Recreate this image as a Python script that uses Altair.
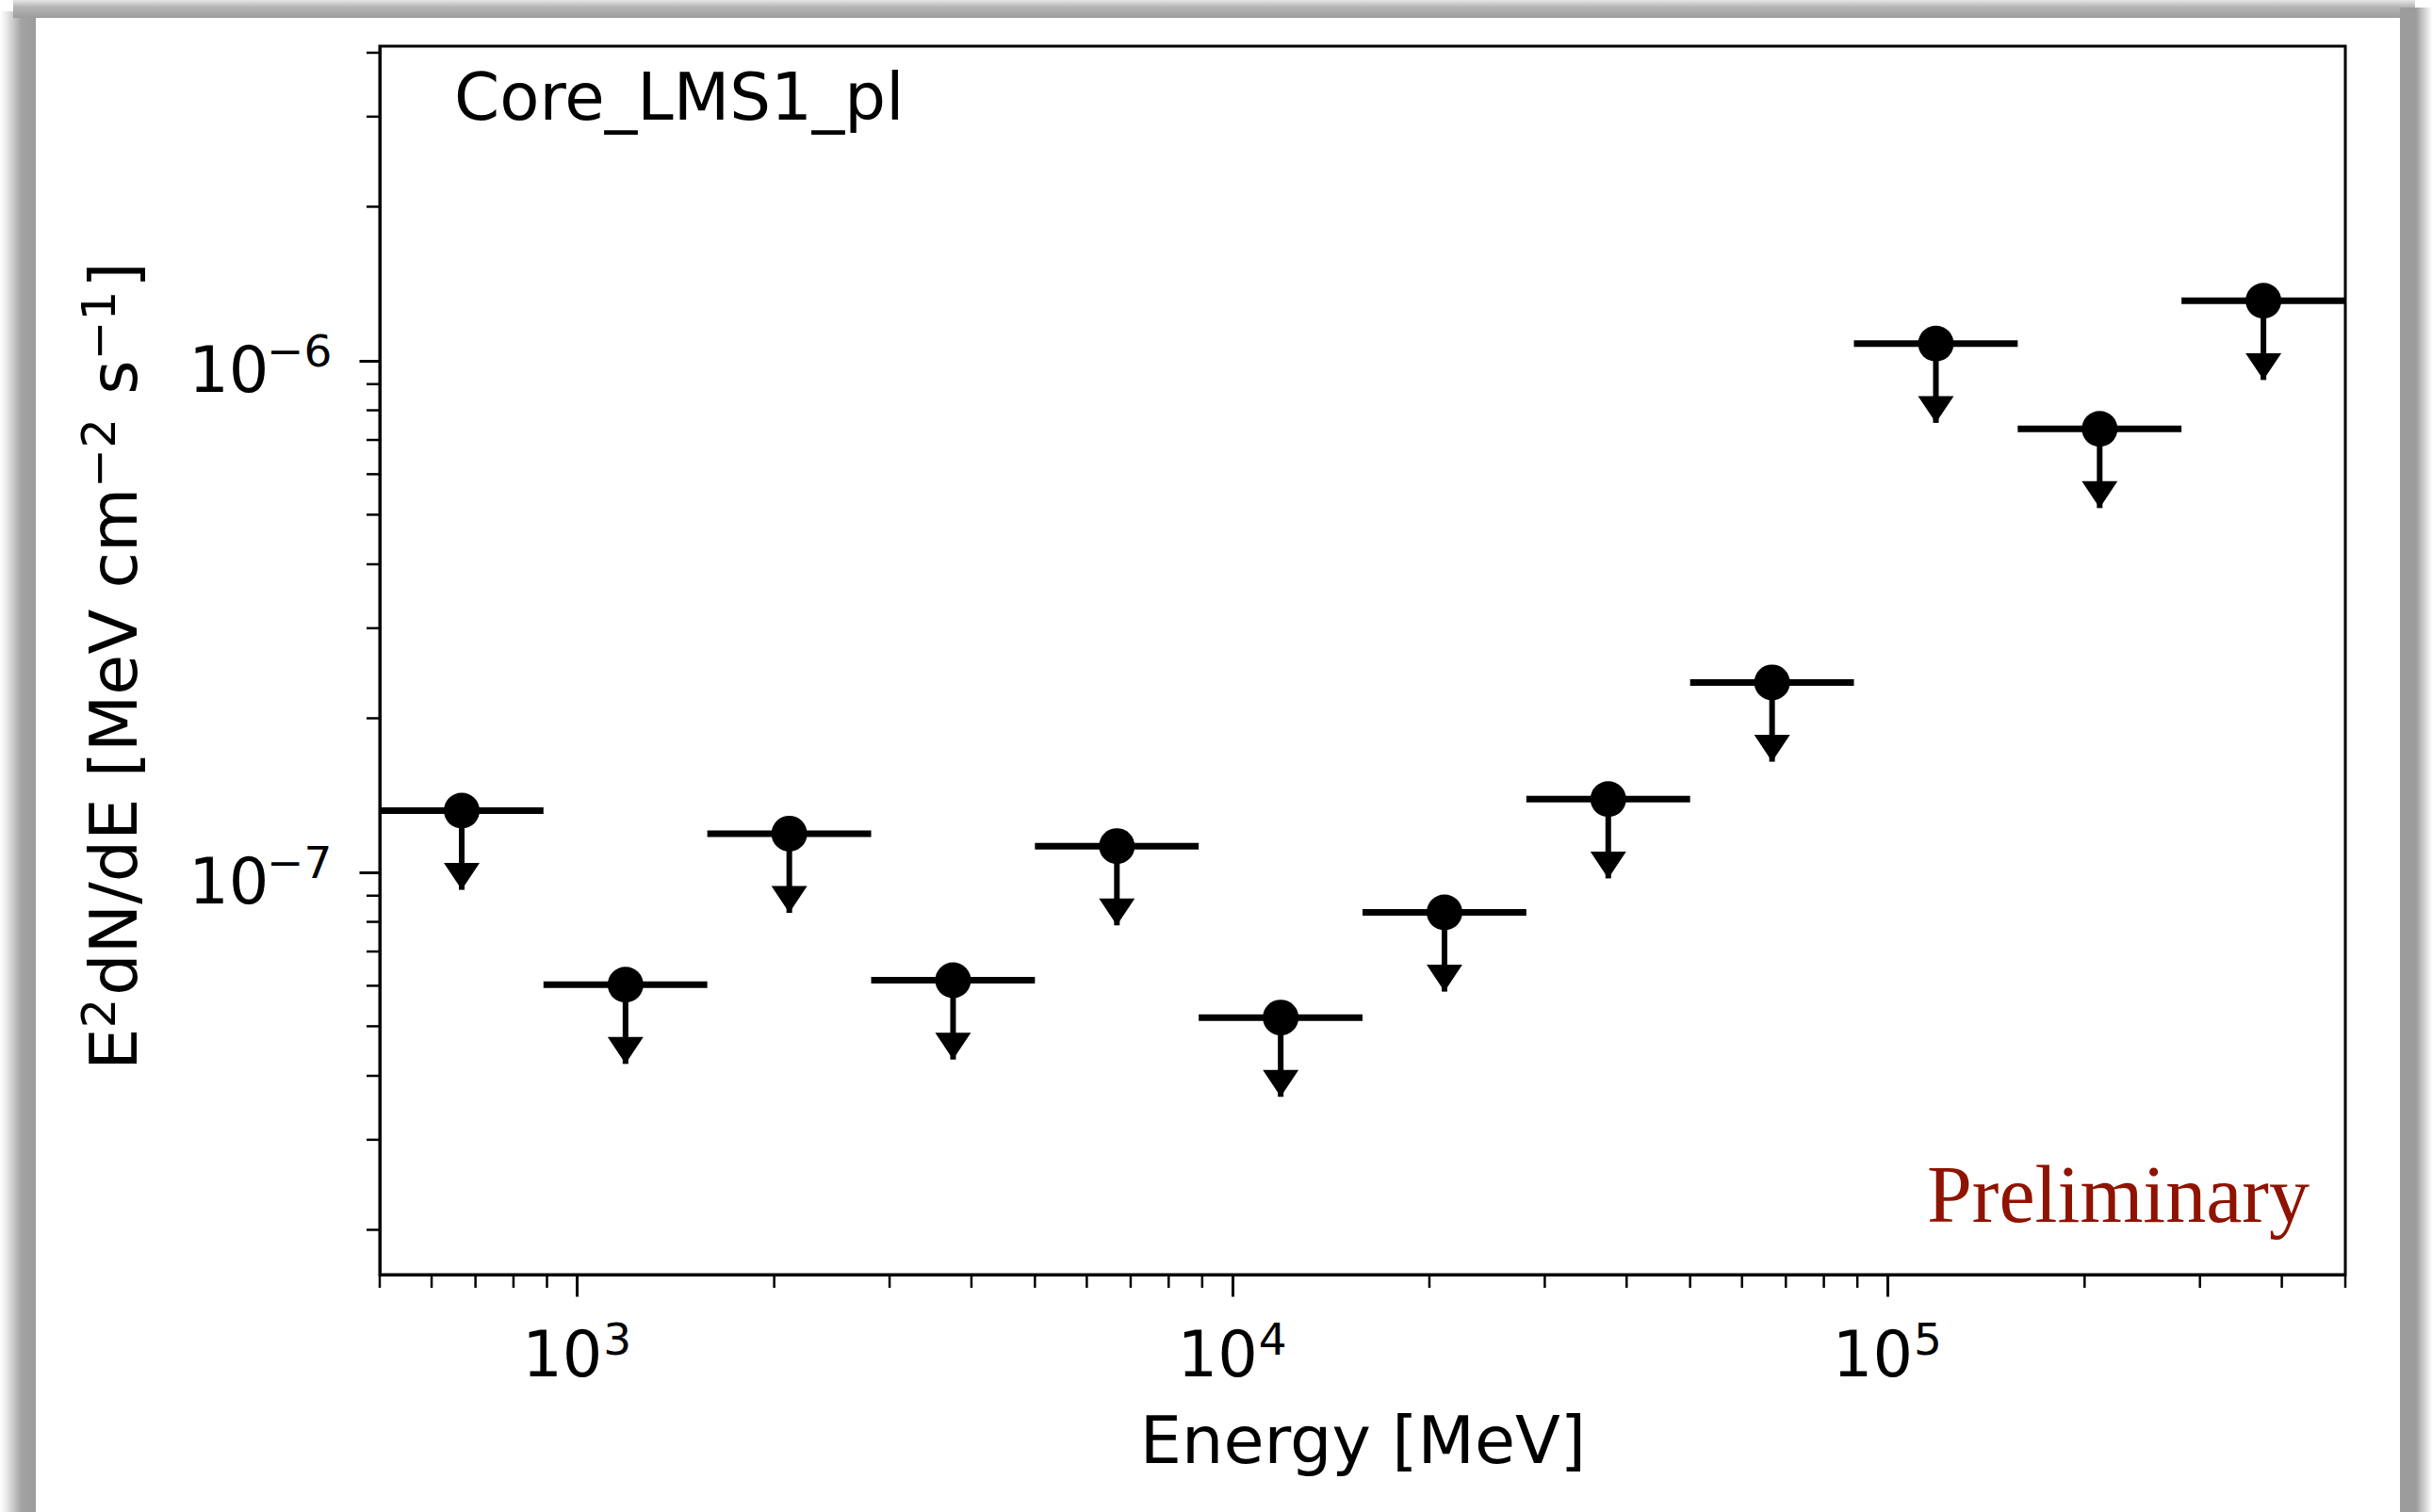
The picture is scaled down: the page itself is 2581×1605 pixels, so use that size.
import altair as alt
import pandas as pd

# ---------------- data ----------------
energy = [667, 1186, 2109, 3750, 6669, 11860, 21090, 37500, 66690, 118600, 210900, 375000]
e_low = [500, 889, 1581, 2812, 5000, 8891, 15811, 28117, 50000, 88914, 158114, 281171]
e_high = [889, 1581, 2812, 5000, 8891, 15811, 28117, 50000, 88914, 158114, 281171, 500000]
flux_ul = [1.32e-7, 6.03e-8, 1.19e-7, 6.15e-8, 1.125e-7, 5.2e-8, 8.35e-8, 1.39e-7,
           2.35e-7, 1.08e-6, 7.36e-7, 1.31e-6]

x_major = [1e3, 1e4, 1e5]
x_major_base = "10"
x_major_exp = ["3", "4", "5"]
x_minor = [500, 600, 700, 800, 900,
           2000, 3000, 4000, 5000, 6000, 7000, 8000, 9000,
           20000, 30000, 40000, 50000, 60000, 70000, 80000, 90000,
           200000, 300000, 400000, 500000]
y_major = [1e-7, 1e-6]
y_major_base = "10"
y_major_exp = ["−7", "−6"]
y_minor = [2e-8, 3e-8, 4e-8, 5e-8, 6e-8, 7e-8, 8e-8, 9e-8,
           2e-7, 3e-7, 4e-7, 5e-7, 6e-7, 7e-7, 8e-7, 9e-7,
           2e-6, 3e-6, 4e-6]

x_title = "Energy [MeV]"
# y title pieces: (text, is_superscript)
y_title_parts = [("E", False), ("2", True), ("dN/dE [MeV cm", False), ("−2", True),
                 ("s", False), ("−1", True), ("]", False)]
panel_label = "Core_LMS1_pl"
watermark = "Preliminary"

x_domain = [500, 500000]
y_domain = [1.635e-8, 4.12e-6]

# ---------------- layout / style ----------------
W, H = 2086, 1304
PAD = {"left": 403, "top": 49, "right": 92, "bottom": 252}
FONT = "DejaVu Sans"
FS_TICK, FS_SUP = 67, 47
FS_TITLE, FS_TITLE_SUP = 70, 50
ARROW_FRACTION = 0.7  # upper-limit arrow length (style)

# DejaVu Sans advance widths (em) used to lay out the y-title pieces
ADV = {"E": .632, "d": .635, "N": .748, "/": .337, " ": .318, "[": .390, "]": .390,
       "M": .863, "e": .615, "V": .684, "c": .550, "m": .974, "s": .521,
       "−": .838, "1": .636, "2": .636}

df = pd.DataFrame({
    "energy": energy, "e_low": e_low, "e_high": e_high, "flux": flux_ul,
})
df["tip"] = df["flux"] * ARROW_FRACTION

xscale = alt.Scale(type="log", domain=x_domain, nice=False)
yscale = alt.Scale(type="log", domain=y_domain, nice=False)

x_axis = alt.Axis(
    values=x_major, labelExpr=f"'{x_major_base}'",
    tickSize=23, labelPadding=84, labelBaseline="alphabetic", labelAlign="center",
    labelOffset=-16, labelFlush=False, labelOverlap=False,
    title=x_title, titleX=W / 2, titleY=199, titleBaseline="alphabetic",
    titleAlign="center", titleAnchor="start",
)
y_axis = alt.Axis(
    values=y_major, labelExpr=f"'{y_major_base}'",
    tickSize=22, labelPadding=96, labelBaseline="alphabetic", labelOffset=33,
    labelAlign="right", labelFlush=False, labelOverlap=False, title=None,
)

base = alt.Chart(df)

hbars = base.mark_rule(color="black", strokeWidth=7).encode(
    x=alt.X("e_low:Q", scale=xscale, axis=x_axis),
    x2="e_high:Q",
    y=alt.Y("flux:Q", scale=yscale, axis=y_axis),
)
vbars = base.mark_rule(color="black", strokeWidth=6).encode(
    x=alt.X("energy:Q", scale=xscale),
    y=alt.Y("flux:Q", scale=yscale),
    y2="tip:Q",
)
dots = base.mark_point(shape="circle", filled=True, size=1444, opacity=1,
                       color="black").encode(
    x=alt.X("energy:Q", scale=xscale),
    y=alt.Y("flux:Q", scale=yscale),
)
arrows = base.mark_point(shape="M-1,-1.5L1,-1.5L0,0Z", filled=True, size=1440,
                         opacity=1, color="black").encode(
    x=alt.X("energy:Q", scale=xscale),
    y=alt.Y("tip:Q", scale=yscale),
)

# minor ticks, positioned through the scales
xminor = alt.Chart(pd.DataFrame({"v": x_minor})).mark_rule(
    color="black", strokeWidth=2.5).encode(
    x=alt.X("v:Q", scale=xscale), y=alt.value(H), y2=alt.value(H + 14))
yminor = alt.Chart(pd.DataFrame({"v": y_minor})).mark_rule(
    color="black", strokeWidth=2.5).encode(
    y=alt.Y("v:Q", scale=yscale), x=alt.value(-14), x2=alt.value(0))

# superscript exponents of the tick labels
xsup = alt.Chart(pd.DataFrame({"v": x_major, "t": x_major_exp})).mark_text(
    font=FONT, fontSize=FS_SUP, align="left", baseline="alphabetic",
    color="black", dx=28).encode(
    x=alt.X("v:Q", scale=xscale), y=alt.value(H + 85), text="t:N")
ysup = alt.Chart(pd.DataFrame({"v": y_major, "t": y_major_exp})).mark_text(
    font=FONT, fontSize=FS_SUP, align="left", baseline="alphabetic",
    color="black", dy=6).encode(
    y=alt.Y("v:Q", scale=yscale), x=alt.value(-120), text="t:N")

one = pd.DataFrame({"a": [0]})

# y title laid out piece by piece (rotated, reading upwards)
Y_TITLE_BASE_X, Y_TITLE_SUP_RAISE = -258, 23
sizes = []
for txt, sup in y_title_parts:
    fs = FS_TITLE_SUP if sup else FS_TITLE
    sizes.append(sum(ADV[c] for c in txt) * fs + (3 if sup else 0))
space_before = {4: ADV[" "] * FS_TITLE}   # the space before "s"
total = sum(sizes) + sum(space_before.values())
pos = H / 2 + 6 + total / 2
ytitle_layers = []
for i, ((txt, sup), w) in enumerate(zip(y_title_parts, sizes)):
    pos -= space_before.get(i, 0)
    ytitle_layers.append(
        alt.Chart(one).mark_text(
            text=txt, font=FONT, fontSize=FS_TITLE_SUP if sup else FS_TITLE,
            align="left", baseline="alphabetic", angle=270, color="black",
        ).encode(
            x=alt.value(Y_TITLE_BASE_X - (Y_TITLE_SUP_RAISE if sup else 0)),
            y=alt.value(pos),
        )
    )
    pos -= w

label_txt = alt.Chart(one).mark_text(
    text=panel_label, font=FONT, fontSize=69, align="left",
    baseline="alphabetic", color="black").encode(
    x=alt.value(79), y=alt.value(78))
prelim_txt = alt.Chart(one).mark_text(
    text=watermark, font="Liberation Serif", fontSize=86, align="right",
    baseline="alphabetic", color="#8f1300").encode(
    x=alt.value(2048), y=alt.value(1248))

# decorative grey frame around the screenshot
GREY = "#9c9c9c"
left_band = alt.Chart(one).mark_rect(
    color=alt.LinearGradient(
        gradient="linear", x1=0, x2=1, y1=0, y2=0,
        stops=[alt.GradientStop(color="#ffffff", offset=0),
               alt.GradientStop(color="#eeeeee", offset=0.15),
               alt.GradientStop(color="#a2a2a2", offset=0.6),
               alt.GradientStop(color=GREY, offset=1)])).encode(
    x=alt.value(-PAD["left"]), x2=alt.value(-PAD["left"] + 38),
    y=alt.value(-PAD["top"] + 12), y2=alt.value(H + PAD["bottom"]))
top_band = alt.Chart(one).mark_rect(
    color=alt.LinearGradient(
        gradient="linear", x1=0, x2=0, y1=0, y2=1,
        stops=[alt.GradientStop(color="#e6e6e6", offset=0),
               alt.GradientStop(color="#b4b4b4", offset=0.4),
               alt.GradientStop(color=GREY, offset=1)])).encode(
    x=alt.value(-PAD["left"] + 14), x2=alt.value(W + PAD["right"] - 18),
    y=alt.value(-PAD["top"]), y2=alt.value(-PAD["top"] + 19))
right_band = alt.Chart(one).mark_rect(
    color=alt.LinearGradient(
        gradient="linear", x1=0, x2=1, y1=0, y2=0,
        stops=[alt.GradientStop(color=GREY, offset=0),
               alt.GradientStop(color=GREY, offset=0.5),
               alt.GradientStop(color="#d8d8d8", offset=0.8),
               alt.GradientStop(color="#ffffff", offset=1)])).encode(
    x=alt.value(W + PAD["right"] - 34), x2=alt.value(W + PAD["right"]),
    y=alt.value(-PAD["top"] + 8), y2=alt.value(H + PAD["bottom"]))

chart = alt.layer(
    left_band, top_band, right_band,
    hbars, vbars, dots, arrows, xminor, yminor, xsup, ysup,
    *ytitle_layers, label_txt, prelim_txt,
).properties(
    width=W, height=H,
    autosize=alt.AutoSizeParams(type="none"),
    padding=PAD,
    background="white",
).configure_view(
    stroke="black", strokeWidth=3,
).configure_axis(
    grid=False, domainColor="black", domainWidth=3,
    tickColor="black", tickWidth=3,
    labelFont=FONT, labelFontSize=FS_TICK, labelColor="black",
    titleFont=FONT, titleFontSize=FS_TITLE, titleFontWeight="normal", titleColor="black",
)

chart.save("out.html", embed_options={"renderer": "svg", "actions": False})
